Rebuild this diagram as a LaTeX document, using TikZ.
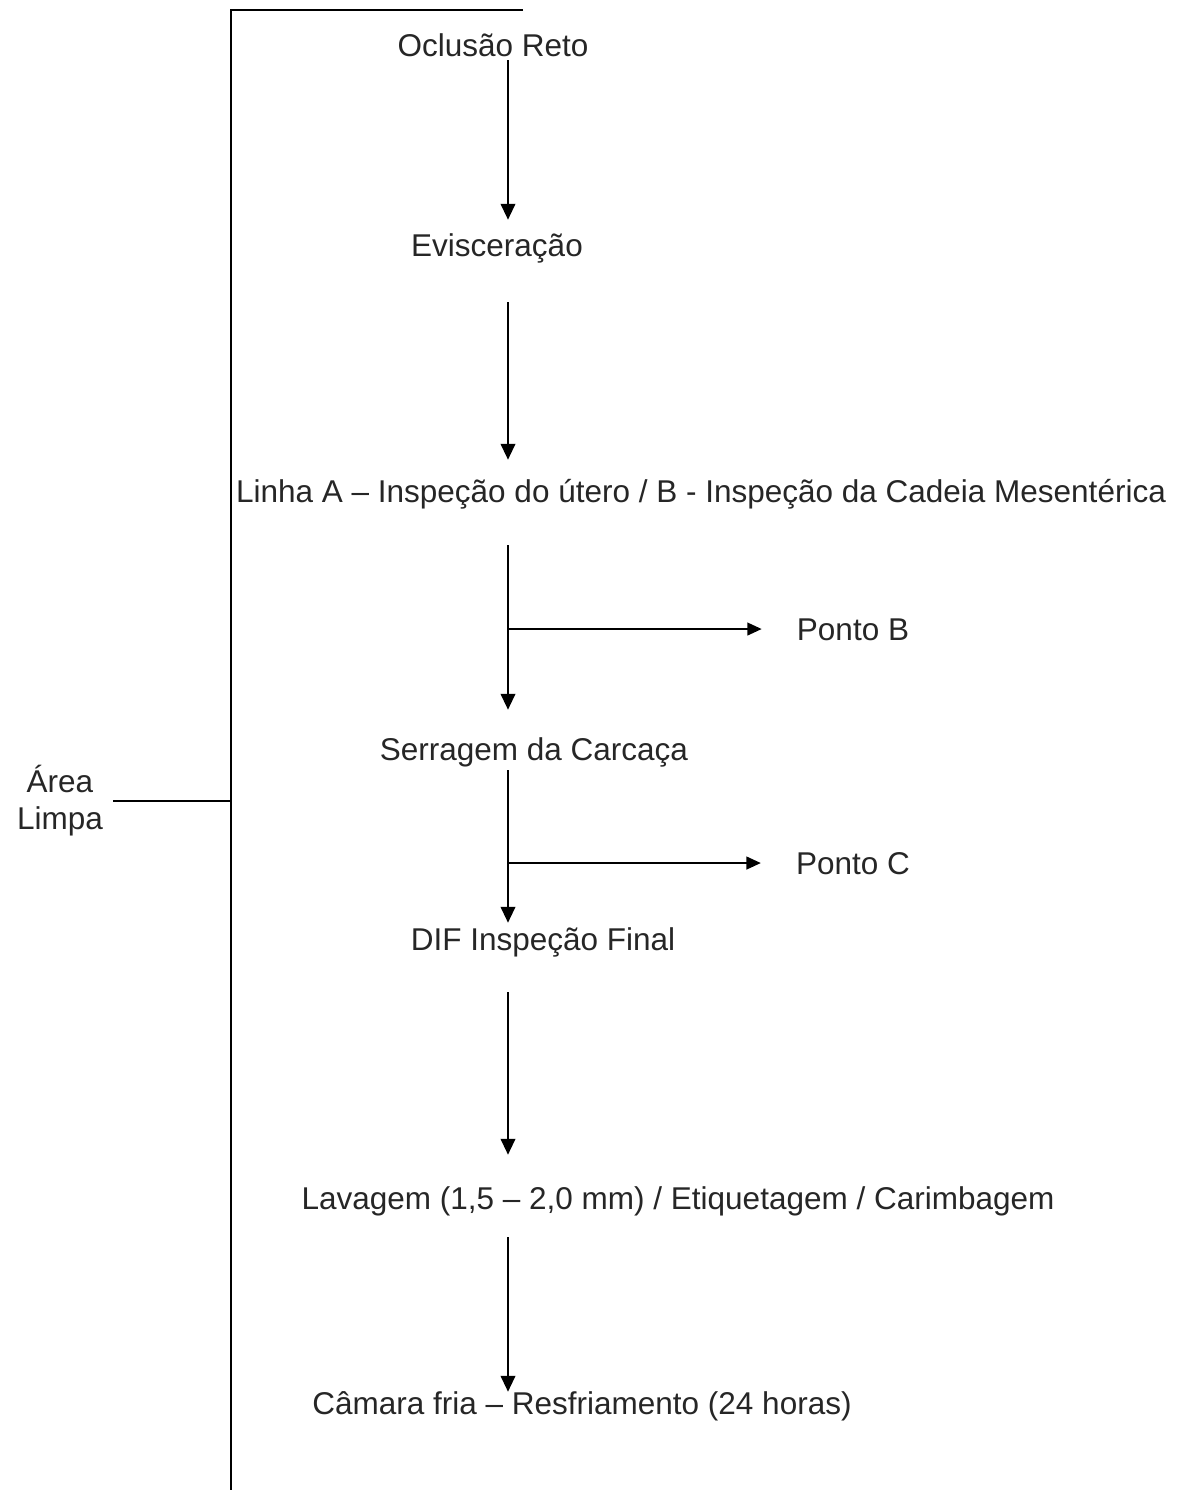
\documentclass[tikz,border=0pt]{standalone}
\usepackage{fontspec}
\setmainfont{Liberation Sans}
\usetikzlibrary{arrows.meta,calc}

\begin{document}
\begin{tikzpicture}[x=0.025cm,y=-0.025cm,
  etapa/.style={anchor=base,inner sep=0pt,text height=15.6pt,text depth=0pt,
    font=\fontsize{22.4}{26.3}\selectfont,text=black!85},
  seta/.style={line width=1.9pt,-{Triangle[length=0.4cm,width=0.36cm]}},
  ramo/.style={line width=1.3pt,-{Triangle[length=0.36cm,width=0.32cm]}}]
  \useasboundingbox (0,0) rectangle (1188,1490);
  \coordinate (topo) at (231,10);
  \coordinate (base) at (231,1490);
  \coordinate (canto) at (523,10);
  \coordinate (eixo) at (508,0);
  \draw[line width=1.9pt] (canto) -- (topo) -- (base);
  % area
  \node[font=\fontsize{22.4}{26.3}\selectfont,text=black!85,align=center,inner sep=7pt] (area) at (60,801) {Área\\Limpa};
  \draw[line width=1.9pt] (area.east) -- (area.east -| topo);
  % etapas
  \node[etapa] (ocl) at (493,57) {Oclusão Reto};
  \node[etapa] (evi) at (497,257) {Evisceração};
  \node[etapa] (linha) at (701,502) {Linha A – Inspeção do útero / B - Inspeção da Cadeia  Mesentérica};
  \node[etapa] (serr) at (534,760) {Serragem da Carcaça};
  \node[etapa] (dif) at (543,950) {DIF Inspeção Final};
  \node[etapa] (lav) at (678,1209) {Lavagem (1,5 – 2,0 mm) / Etiquetagem / Carimbagem};
  \node[etapa] (cam) at (582,1414) {Câmara fria – Resfriamento (24 horas)};
  \node[etapa] (pb) at (853,640) {Ponto B};
  \node[etapa] (pc) at (853,874) {Ponto C};
  % setas
  \draw[seta] ($(ocl.south -| eixo)+(0,3)$) -- ($(evi.north -| eixo)+(0,-15)$);
  \draw[seta] ($(evi.south -| eixo)+(0,45)$) -- ($(linha.north -| eixo)+(0,-20)$);
  \draw[seta] ($(linha.south -| eixo)+(0,43)$) -- ($(serr.north -| eixo)+(0,-28)$);
  \draw[seta] ($(serr.south -| eixo)+(0,10)$) -- ($(dif.north -| eixo)+(0,-5)$);
  \draw[seta] ($(dif.south -| eixo)+(0,42)$) -- ($(lav.north -| eixo)+(0,-32)$);
  \draw[seta] ($(lav.south -| eixo)+(0,28)$) -- ($(cam.north -| eixo)+(0,0)$);
  \draw[ramo] (eixo |- pb.center) -- ($(pb.west)+(-35,0)$);
  \draw[ramo] (eixo |- pc.center) -- ($(pc.west)+(-35,0)$);
\end{tikzpicture}
\end{document}
